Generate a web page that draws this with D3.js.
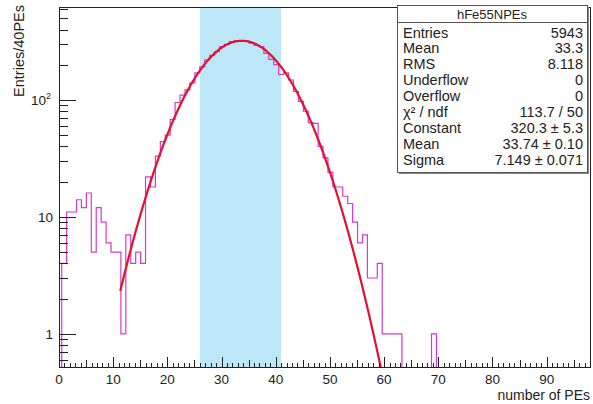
<!DOCTYPE html>
<meta charset="utf-8">
<title>hFe55NPEs</title>
<style>

html, body {
  margin: 0;
  overflow: hidden;
  background: #fff;
}

text {
  font-family: "Liberation Sans", Arial, Helvetica, sans-serif;
  fill: #222;
}

.axis path, .axis line {
  stroke: #222;
  shape-rendering: crispEdges;
}

.stats text {
  font-size: 14.5px;
}

</style>
<svg width="593" height="404"></svg>
<script src="https://d3js.org/d3.v7.min.js"></script>
<script>

// histogram binning
var binLow = 0.5,
    binWidth = 0.91;

// bin contents, one per bin starting at binLow
var counts = [4, 11, 11, 14, 12, 16, 5, 12, 9, 6,
              5, 5, 1, 7, 4, 5, 4, 22, 18, 33,
              44, 50, 68, 95, 110, 122, 140, 170, 192, 220,
              240, 258, 285, 298, 315, 322, 318, 320, 305, 292,
              285, 250, 222, 200, 165, 170, 148, 118, 97, 80,
              64, 63, 40, 32, 24, 18, 18, 15, 13, 9,
              6, 7, 3, 3, 4, 1, 1, 1, 1, 0,
              0, 0, 0, 0, 0, 1, 0];

// gaussian fit parameters and range
var fitConstant = 320.3,
    fitMean = 33.74,
    fitSigma = 7.149,
    fitRange = [11.3, 62];

// shaded window
var bandRange = [26, 41];

var xTicks = [0, 10, 20, 30, 40, 50, 60, 70, 80, 90];
var yTicks = [1, 10, 100];

var statsTitle = "hFe55NPEs";
var statsLabels = ["Entries", "Mean", "RMS", "Underflow", "Overflow", "\u03c7\u00b2 / ndf", "Constant", "Mean", "Sigma"];
var statsValues = ["5943", "33.3", "8.118", "0", "0", "113.7 / 50", "320.3 \u00b1 5.3", "33.74 \u00b1 0.10", "7.149 \u00b1 0.071"];

var svg = d3.select("svg"),
    fLeft = 59, fRight = 590, fTop = 7, fBottom = 367;

var x = d3.scaleLinear().domain([0, 98]).range([fLeft, fRight]);
var y = d3.scaleLog().domain([0.52, 623]).range([fBottom, fTop]);

svg.append("defs").append("clipPath")
    .attr("id", "frame")
  .append("rect")
    .attr("x", fLeft).attr("y", fTop)
    .attr("width", fRight - fLeft).attr("height", fBottom - fTop);

// blue band
svg.append("rect")
    .attr("x", x(bandRange[0]))
    .attr("y", fTop)
    .attr("width", x(bandRange[1]) - x(bandRange[0]))
    .attr("height", fBottom - fTop)
    .style("fill", "#bde7f7");

var plot = svg.append("g").attr("clip-path", "url(#frame)");

// histogram outline, empty bins sit on the bottom of the frame
function yv(v) { return v > 0 ? y(v) : fBottom + 1; }
var pts = [[x(binLow), fBottom + 1]];
counts.forEach(function(c, i) {
  var x0 = x(binLow + i * binWidth), x1 = x(binLow + (i + 1) * binWidth);
  pts.push([x0, yv(c)]);
  pts.push([x1, yv(c)]);
});
pts.push([x(binLow + counts.length * binWidth), fBottom + 1]);

plot.append("path")
    .attr("d", d3.line()(pts))
    .style("fill", "none")
    .style("stroke", "#d23bd2")
    .style("stroke-width", 1.2);

// fit curve
var fitPts = d3.range(fitRange[0], fitRange[1], 0.1).map(function(v) {
  var g = fitConstant * Math.exp(-(v - fitMean) * (v - fitMean) / (2 * fitSigma * fitSigma));
  return [x(v), y(Math.max(g, 0.3))];
});
plot.append("path")
    .attr("d", d3.line()(fitPts))
    .style("fill", "none")
    .style("stroke", "#e3102e")
    .style("stroke-width", 2.2);

// frame
svg.append("rect")
    .attr("x", fLeft).attr("y", fTop)
    .attr("width", fRight - fLeft).attr("height", fBottom - fTop)
    .style("fill", "none")
    .style("stroke", "#222")
    .style("shape-rendering", "crispEdges");

// x ticks, every unit with longer ones at 5 and 10
var gx = svg.append("g").attr("class", "axis");
d3.range(0, 98).forEach(function(v) {
  var len = v % 10 === 0 ? 10 : (v % 5 === 0 ? 7 : 4);
  gx.append("line")
      .attr("x1", Math.round(x(v)) + 0.5).attr("x2", Math.round(x(v)) + 0.5)
      .attr("y1", fBottom).attr("y2", fBottom - len);
});
gx.selectAll("text.tl")
    .data(xTicks)
    .enter().append("text")
    .attr("x", function(d) { return x(d); })
    .attr("y", fBottom + 17)
    .attr("text-anchor", "middle")
    .style("font-size", "13.5px")
    .text(function(d) { return d; });

gx.append("text")
    .attr("x", fRight)
    .attr("y", 400)
    .attr("text-anchor", "end")
    .style("font-size", "14px")
    .text("number of PEs");

// y ticks on log scale
var gy = svg.append("g").attr("class", "axis");
var yMinor = [];
[0.1, 1, 10, 100].forEach(function(dec) {
  for (var m = 1; m <= 9; m++) yMinor.push(dec * m);
});
yMinor.filter(function(v) { return v >= 0.52 && v <= 623; }).forEach(function(v) {
  var major = yTicks.indexOf(v) >= 0;
  gy.append("line")
      .attr("x1", fLeft).attr("x2", fLeft + (major ? 17 : 9))
      .attr("y1", Math.round(y(v)) + 0.5).attr("y2", Math.round(y(v)) + 0.5);
});

gy.append("text").attr("x", 53).attr("y", y(1) + 5)
    .attr("text-anchor", "end").style("font-size", "13.5px").text("1");
gy.append("text").attr("x", 53).attr("y", y(10) + 5)
    .attr("text-anchor", "end").style("font-size", "13.5px").text("10");
var t100 = gy.append("text").attr("x", 51).attr("y", y(100) + 5)
    .attr("text-anchor", "end").style("font-size", "13.5px");
t100.append("tspan").text("10");
t100.append("tspan").attr("dy", -6).style("font-size", "9px").text("2");

svg.append("text")
    .attr("transform", "translate(24,5) rotate(-90)")
    .attr("text-anchor", "end")
    .style("font-size", "14.5px")
    .text("Entries/40PEs");

// stats box
var sb = svg.append("g").attr("class", "stats");
var bx0 = 397, bx1 = 587, by0 = 5, by1 = 172;
sb.append("rect")
    .attr("x", bx0 + 2).attr("y", by0 + 2)
    .attr("width", bx1 - bx0).attr("height", by1 - by0)
    .style("fill", "#888");
sb.append("rect")
    .attr("x", bx0).attr("y", by0)
    .attr("width", bx1 - bx0).attr("height", by1 - by0)
    .style("fill", "#fff")
    .style("stroke", "#555")
    .style("shape-rendering", "crispEdges");
sb.append("line")
    .attr("x1", bx0).attr("x2", bx1)
    .attr("y1", 22.5).attr("y2", 22.5)
    .style("stroke", "#555");
sb.append("text")
    .attr("x", (bx0 + bx1) / 2).attr("y", 18.5)
    .attr("text-anchor", "middle")
    .style("font-size", "13px")
    .text(statsTitle);

sb.selectAll("text.lab")
    .data(statsLabels)
    .enter().append("text")
    .attr("class", "lab")
    .attr("x", bx0 + 6)
    .attr("y", function(d, i) { return 37.5 + i * 15.9; })
    .text(function(d) { return d; });

sb.selectAll("text.val")
    .data(statsValues)
    .enter().append("text")
    .attr("class", "val")
    .attr("x", bx1 - 4)
    .attr("y", function(d, i) { return 37.5 + i * 15.9; })
    .attr("text-anchor", "end")
    .text(function(d) { return d; });

</script>
